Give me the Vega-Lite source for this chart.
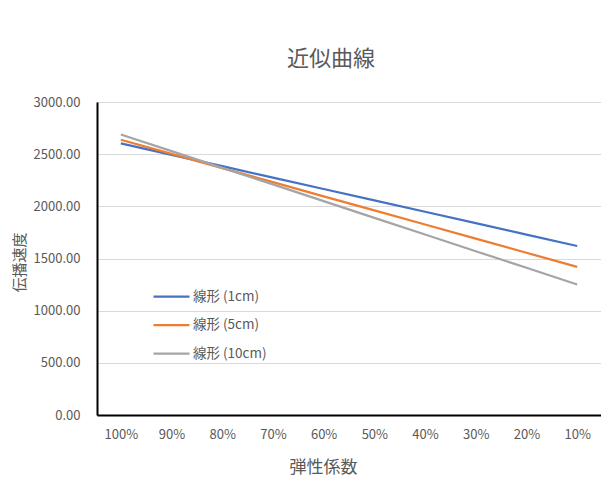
{
  "$schema": "https://vega.github.io/schema/vega-lite/v6.json",
  "autosize": {"type": "none"},
  "padding": {"left": 97, "top": 102, "right": 0, "bottom": 76},
  "width": 504,
  "height": 313,
  "background": "white",
  "title": {
    "text": "近似曲線",
    "font": "Noto Sans CJK JP",
    "fontSize": 22,
    "fontWeight": "normal",
    "color": "#595959",
    "anchor": "middle",
    "baseline": "middle",
    "dx": -18,
    "offset": 15
  },
  "data": {
    "values": [
      {"modulus": "100%", "series": "線形 (1cm)", "speed": 2603},
      {"modulus": "90%", "series": "線形 (1cm)", "speed": 2494},
      {"modulus": "80%", "series": "線形 (1cm)", "speed": 2385},
      {"modulus": "70%", "series": "線形 (1cm)", "speed": 2275},
      {"modulus": "60%", "series": "線形 (1cm)", "speed": 2166},
      {"modulus": "50%", "series": "線形 (1cm)", "speed": 2057},
      {"modulus": "40%", "series": "線形 (1cm)", "speed": 1948},
      {"modulus": "30%", "series": "線形 (1cm)", "speed": 1839},
      {"modulus": "20%", "series": "線形 (1cm)", "speed": 1729},
      {"modulus": "10%", "series": "線形 (1cm)", "speed": 1620},
      {"modulus": "100%", "series": "線形 (5cm)", "speed": 2638},
      {"modulus": "90%", "series": "線形 (5cm)", "speed": 2503},
      {"modulus": "80%", "series": "線形 (5cm)", "speed": 2367},
      {"modulus": "70%", "series": "線形 (5cm)", "speed": 2232},
      {"modulus": "60%", "series": "線形 (5cm)", "speed": 2096},
      {"modulus": "50%", "series": "線形 (5cm)", "speed": 1961},
      {"modulus": "40%", "series": "線形 (5cm)", "speed": 1826},
      {"modulus": "30%", "series": "線形 (5cm)", "speed": 1690},
      {"modulus": "20%", "series": "線形 (5cm)", "speed": 1555},
      {"modulus": "10%", "series": "線形 (5cm)", "speed": 1419},
      {"modulus": "100%", "series": "線形 (10cm)", "speed": 2689},
      {"modulus": "90%", "series": "線形 (10cm)", "speed": 2529},
      {"modulus": "80%", "series": "線形 (10cm)", "speed": 2369},
      {"modulus": "70%", "series": "線形 (10cm)", "speed": 2210},
      {"modulus": "60%", "series": "線形 (10cm)", "speed": 2050},
      {"modulus": "50%", "series": "線形 (10cm)", "speed": 1890},
      {"modulus": "40%", "series": "線形 (10cm)", "speed": 1730},
      {"modulus": "30%", "series": "線形 (10cm)", "speed": 1570},
      {"modulus": "20%", "series": "線形 (10cm)", "speed": 1411},
      {"modulus": "10%", "series": "線形 (10cm)", "speed": 1251}
    ]
  },
  "mark": {"type": "line", "strokeWidth": 2.25},
  "encoding": {
    "x": {
      "field": "modulus",
      "type": "ordinal",
      "sort": ["100%", "90%", "80%", "70%", "60%", "50%", "40%", "30%", "20%", "10%"],
      "scale": {"type": "point", "padding": 0.47},
      "axis": {
        "title": "弾性係数",
        "labelAngle": 0,
        "ticks": false,
        "tickSize": 0,
        "labelPadding": 13,
        "labelFontSize": 13,
        "labelColor": "#595959",
        "domainColor": "#000000",
        "domainWidth": 2,
        "grid": false,
        "titleFontSize": 17,
        "titleFontWeight": "normal",
        "titleColor": "#595959",
        "titleX": 226,
        "titleY": 52,
        "titleAlign": "center",
        "titleBaseline": "middle"
      }
    },
    "y": {
      "field": "speed",
      "type": "quantitative",
      "scale": {"domain": [0, 3000], "nice": false},
      "axis": {
        "title": "伝播速度",
        "values": [0, 500, 1000, 1500, 2000, 2500, 3000],
        "format": ".2f",
        "ticks": false,
        "tickSize": 0,
        "labelPadding": 17,
        "labelFontSize": 13,
        "labelColor": "#595959",
        "domainColor": "#000000",
        "domainWidth": 2,
        "gridColor": "#d9d9d9",
        "gridWidth": 1,
        "titleFontSize": 15,
        "titleFontWeight": "normal",
        "titleColor": "#595959",
        "titleAngle": -90,
        "titleX": -78,
        "titleY": 160,
        "titleAlign": "center",
        "titleBaseline": "middle"
      }
    },
    "color": {
      "field": "series",
      "type": "nominal",
      "scale": {
        "domain": ["線形 (1cm)", "線形 (5cm)", "線形 (10cm)"],
        "range": ["#4472C4", "#ED7D31", "#A5A5A5"]
      },
      "legend": {
        "title": null,
        "orient": "none",
        "legendX": 55,
        "legendY": 175,
        "symbolType": "stroke",
        "symbolSize": 1296,
        "symbolStrokeWidth": 2.25,
        "labelFontSize": 13.5,
        "labelColor": "#595959",
        "labelOffset": 2,
        "rowPadding": 2.5
      }
    }
  },
  "config": {
    "font": "Noto Sans CJK JP",
    "view": {"stroke": null}
  }
}
